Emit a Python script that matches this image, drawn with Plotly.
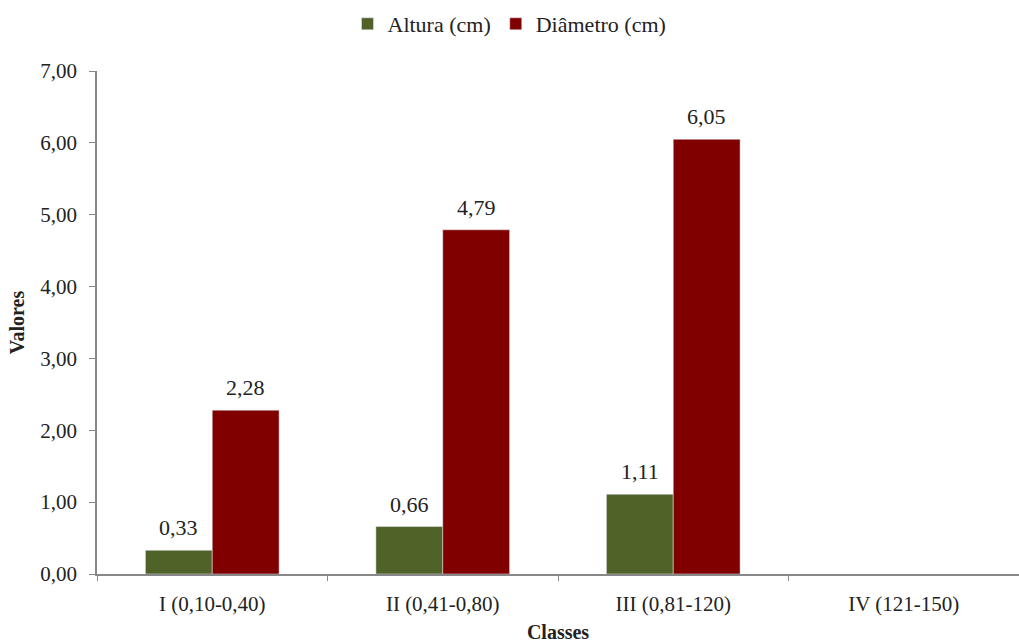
import plotly.graph_objects as go

categories = ["I (0,10-0,40)", "II (0,41-0,80)", "III (0,81-120)", "IV (121-150)"]
altura = [0.33, 0.66, 1.11, None]
diametro = [2.28, 4.79, 6.05, None]
altura_text = ["0,33", "0,66", "1,11", ""]
diametro_text = ["2,28", "4,79", "6,05", ""]

FONT = "Liberation Serif"
GREEN = "#4F6228"
RED = "#800000"

fig = go.Figure()
fig.add_trace(go.Bar(name="Altura (cm)", x=categories, y=altura, marker_color=GREEN))
fig.add_trace(go.Bar(name="Diâmetro (cm)", x=categories, y=diametro, marker_color=RED))

# value labels above bars
for vals, texts, shift in ((altura, altura_text, -33.4), (diametro, diametro_text, 33.4)):
    for c, v, t in zip(categories, vals, texts):
        if v is None:
            continue
        fig.add_annotation(x=c, y=v, text=t, showarrow=False, xshift=shift,
                           yanchor="bottom", yshift=8,
                           font=dict(family=FONT, size=22, color="#222"))

fig.update_layout(
    width=1019, height=643,
    margin=dict(l=97, r=0, t=71, b=69),
    barmode="group", bargap=0.42, bargroupgap=0,
    plot_bgcolor="white", paper_bgcolor="white",
    separators=",.",
    font=dict(family=FONT, size=21, color="#222"),
    showlegend=True,
    legend=dict(orientation="h", x=0.5, xanchor="center", xref="container",
                y=0.93, yanchor="bottom", yref="container",
                font=dict(family=FONT, size=22), itemwidth=30, traceorder="normal"),
    xaxis=dict(showline=True, linecolor="#888", linewidth=1.5, ticks="outside",
               tickson="boundaries", ticklen=5, tickcolor="#888",
               tickfont=dict(family=FONT, size=21), ticklabelstandoff=10,
               title=dict(text="<b>Classes</b>", font=dict(family=FONT, size=20), standoff=12)),
    yaxis=dict(range=[0, 7], dtick=1, tickformat=".2f", showgrid=False, zeroline=False,
               showline=True, linecolor="#888", linewidth=1.5, ticks="outside",
               ticklen=6, tickcolor="#888", tickfont=dict(family=FONT, size=21),
               ticklabelstandoff=8,
               title=dict(text="<b>Valores</b>", font=dict(family=FONT, size=20), standoff=10)),
)

fig.write_html("out.html")
